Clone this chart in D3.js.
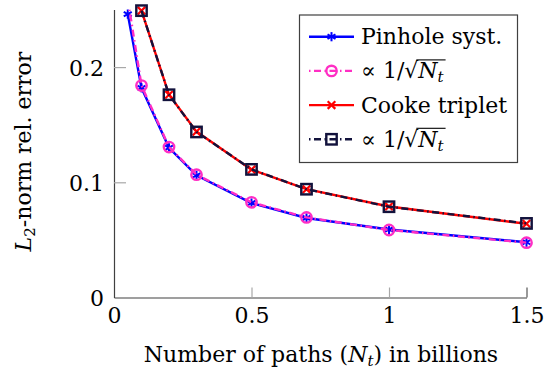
<!DOCTYPE html>
<html>
<head>
<meta charset="utf-8">
<script src="https://cdn.jsdelivr.net/npm/d3@7/dist/d3.min.js"></script>
<style>
  html, body { margin: 0; padding: 0; background: #fff; }
  svg { display: block; }
  text { font-family: "DejaVu Serif", serif; fill: #000; }
</style>
</head>
<body>
<svg id="chart" width="544" height="374"></svg>
<script>
// ---------- data ----------
const xTicks = [0, 0.5, 1, 1.5];
const xTickLabels = ["0", "0.5", "1", "1.5"];
const yTicks = [0, 0.1, 0.2];
const yTickLabels = ["0", "0.1", "0.2"];

const pinholeX = [0.05, 0.1, 0.2, 0.3, 0.5, 0.7, 1.0, 1.5];
const pinholeY = [0.246, 0.182, 0.130, 0.106, 0.082, 0.069, 0.059, 0.048];
const pinholeFitX = [0.05, 0.1, 0.2, 0.3, 0.5, 0.7, 1.0, 1.5];
const pinholeFitY = [0.259, 0.184, 0.1306, 0.1066, 0.0826, 0.0695, 0.0586, 0.0476];

const cookeX = [0.1, 0.2, 0.3, 0.5, 0.7, 1.0, 1.5];
const cookeY = [0.249, 0.176, 0.144, 0.111, 0.094, 0.079, 0.064];
const cookeFitX = [0.1, 0.2, 0.3, 0.5, 0.7, 1.0, 1.5];
const cookeFitY = [0.249, 0.176, 0.1437, 0.1112, 0.094, 0.0788, 0.0643];

const legendLabels = ["Pinhole syst.", "fit", "Cooke triplet", "fit"];

// ---------- setup ----------
const svg = d3.select("#chart");
const FS = 22;
const SUB = 15;
const x = d3.scaleLinear().domain([0, 1.5]).range([114, 526.5]);
const y = d3.scaleLinear().domain([0, 0.25]).range([297.5, 9.5]);

const series = [
  { xs: pinholeX, ys: pinholeY, color: "#0000ff", dash: null, mark: "asterisk" },
  { xs: pinholeFitX, ys: pinholeFitY, color: "#ff2ec4", dash: "7,3.5,1.5,3.5", mark: "circle" },
  { xs: cookeX, ys: cookeY, color: "#ff0000", dash: null, mark: "x" },
  { xs: cookeFitX, ys: cookeFitY, color: "#12123c", dash: "7,3.5,1.5,3.5", mark: "square" }
];

// clip for lines
svg.append("defs").append("clipPath").attr("id", "plotclip")
  .append("rect").attr("x", x(0)).attr("y", y(0.25))
  .attr("width", x(1.5) - x(0)).attr("height", y(0) - y(0.25));

// ---------- axes ----------
const xAxis = svg.append("g").attr("transform", `translate(0,${y(0)})`)
  .call(d3.axisBottom(x).tickValues(xTicks).tickSize(-10).tickSizeOuter(0)
    .tickFormat((d, i) => xTickLabels[i]));
const yAxis = svg.append("g").attr("transform", `translate(${x(0)},0)`)
  .call(d3.axisLeft(y).tickValues(yTicks).tickSize(-12).tickSizeOuter(0).tickPadding(10)
    .tickFormat((d, i) => yTickLabels[i]));

[xAxis, yAxis].forEach(g => {
  g.attr("font-family", null).attr("font-size", null);
  g.select(".domain").attr("stroke", "#404040").attr("stroke-width", 1.2);
  g.selectAll(".tick line").attr("stroke", "#a8a8a8").attr("stroke-width", 1.2);
  g.selectAll(".tick text").style("font-size", FS + "px").attr("fill", "#000");
});
xAxis.selectAll(".tick").filter(d => d === 0).select("line").remove();
yAxis.selectAll(".tick").filter(d => d === 0).select("line").remove();
xAxis.selectAll(".tick").filter(d => d === 1.5).select("line").attr("stroke", "#555");
xAxis.selectAll(".tick text").attr("y", 0).attr("dy", null).attr("transform", "translate(0,25.5)");
yAxis.selectAll(".tick text").attr("dy", "0.36em");

// ---------- series ----------
const line = d3.line().x(d => x(d[0])).y(d => y(d[1]));

function drawMarker(g, type, color) {
  if (type === "asterisk") {
    const r = 4.6;
    [90, 30, -30].forEach(a => {
      const rad = a * Math.PI / 180;
      g.append("line")
        .attr("x1", -r * Math.cos(rad)).attr("y1", -r * Math.sin(rad))
        .attr("x2", r * Math.cos(rad)).attr("y2", r * Math.sin(rad))
        .attr("stroke", color).attr("stroke-width", 2);
    });
  } else if (type === "circle") {
    g.append("circle").attr("r", 5.2).attr("fill", "none")
      .attr("stroke", color).attr("stroke-width", 2.4);
  } else if (type === "x") {
    const r = 3.8;
    g.append("path").attr("d", `M${-r},${-r}L${r},${r}M${-r},${r}L${r},${-r}`)
      .attr("stroke", color).attr("stroke-width", 2.2).attr("fill", "none");
  } else if (type === "square") {
    g.append("rect").attr("x", -5.2).attr("y", -5.2).attr("width", 10.4).attr("height", 10.4)
      .attr("fill", "none").attr("stroke", color).attr("stroke-width", 2.4);
  }
}

series.forEach(s => {
  const pts = s.xs.map((v, i) => [v, s.ys[i]]);
  svg.append("path").datum(pts)
    .attr("clip-path", "url(#plotclip)")
    .attr("d", line).attr("fill", "none")
    .attr("stroke", s.color).attr("stroke-width", 2.4)
    .attr("stroke-dasharray", s.dash);
  pts.filter(p => p[1] <= 0.25).forEach(p => {
    const g = svg.append("g").attr("transform", `translate(${x(p[0])},${y(p[1])})`);
    drawMarker(g, s.mark, s.color);
  });
});

// ---------- axis labels ----------
const xl = svg.append("text").attr("x", 321).attr("y", 362).attr("text-anchor", "middle")
  .style("font-size", FS + "px");
xl.append("tspan").text("Number of paths (");
xl.append("tspan").attr("font-style", "italic").text("N");
xl.append("tspan").attr("font-style", "italic").attr("dy", 4).style("font-size", SUB + "px").text("t");
xl.append("tspan").attr("dy", -4).text(") in billions");

const yl = svg.append("text").attr("transform", "translate(31,151.5) rotate(-90)")
  .attr("text-anchor", "middle").style("font-size", FS + "px");
yl.append("tspan").attr("font-style", "italic").text("L");
yl.append("tspan").attr("dy", 4).style("font-size", SUB + "px").text("2");
yl.append("tspan").attr("dy", -4).text("-norm rel. error");

// ---------- legend ----------
const lg = svg.append("g");
lg.append("rect").attr("x", 299.5).attr("y", 15).attr("width", 218).attr("height", 147.5)
  .attr("fill", "#fff").attr("stroke", "#404040").attr("stroke-width", 1.2);
const rowY0 = 36.7, rowDY = 34.2;
series.forEach((s, i) => {
  const cy = rowY0 + i * rowDY;
  lg.append("line").attr("x1", 309).attr("x2", 354).attr("y1", cy).attr("y2", cy)
    .attr("stroke", s.color).attr("stroke-width", 2.4).attr("stroke-dasharray", s.dash)
    .attr("stroke-dashoffset", s.dash ? 10.5 : null);
  const g = lg.append("g").attr("transform", `translate(331.5,${cy})`);
  drawMarker(g, s.mark, s.color);
  const t = lg.append("text").attr("x", 361).attr("y", cy + 7.5).style("font-size", FS + "px");
  if (legendLabels[i] === "fit") {
    t.append("tspan").text("\u221D 1/");
    t.append("tspan").text("\u221A");
    const n = t.append("tspan").attr("font-style", "italic").text("N");
    const sub = t.append("tspan").attr("font-style", "italic").attr("dy", 4).style("font-size", SUB + "px").text("t");
    const nb = n.node().getBBox();
    const sb = sub.node().getBBox();
    lg.append("line").attr("x1", nb.x - 1).attr("x2", sb.x + sb.width + 1)
      .attr("y1", nb.y + 1.5).attr("y2", nb.y + 1.5)
      .attr("stroke", "#000").attr("stroke-width", 1.1);
  } else {
    t.text(legendLabels[i]);
  }
});
</script>
</body>
</html>
